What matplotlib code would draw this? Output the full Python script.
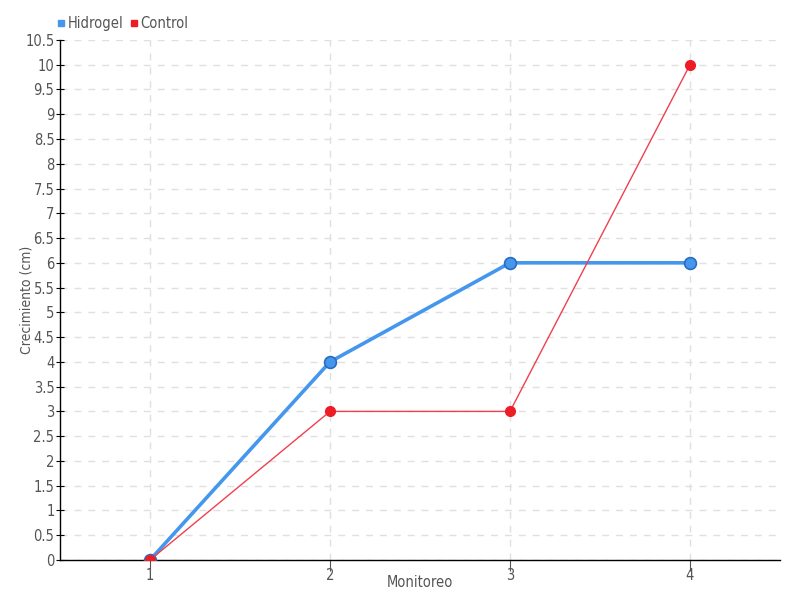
import numpy as np
import matplotlib
matplotlib.use("Agg")
import matplotlib.pyplot as plt
from matplotlib.lines import Line2D

monitoreo = [1, 2, 3, 4]
hidrogel = [0, 4, 6, 6]
control = [0, 3, 3, 10]
y_ticks = np.arange(0, 10.51, 0.5)

plt.rcParams['font.family'] = ['DejaVu Sans']
plt.rcParams['font.stretch'] = 'condensed'
txt = '#555555'

fig = plt.figure(figsize=(8, 6), dpi=100)
ax = fig.add_axes([0.075, 0.0667, 0.9, 0.8667])

ax.plot(monitoreo, hidrogel, color='#4597ee', lw=2.6, marker='o', ms=8.5,
        mfc='#4597ee', mec='#2a6cc0', mew=1.2, zorder=3)
ax.plot(monitoreo, control, color='#f0404f', lw=1, marker='o', ms=7,
        mfc='#ee1c25', mec='#ee1c25', zorder=4)

ax.set_xlim(0.5, 4.5)
ax.set_ylim(0, 10.5)
ax.set_xticks(monitoreo)
ax.set_xticklabels([str(m) for m in monitoreo])
ax.set_yticks(y_ticks)
ax.set_yticklabels(['{:g}'.format(v) for v in y_ticks])

ax.grid(True, color='#e0e0e0', ls=(0, (5, 5)), lw=1)
ax.set_axisbelow(True)
for s in ['top', 'right']:
    ax.spines[s].set_visible(False)
for s in ['left', 'bottom']:
    ax.spines[s].set_color('black')
    ax.spines[s].set_linewidth(1)

ax.tick_params(axis='y', direction='inout', length=6, colors='black',
               labelcolor=txt, labelsize=10.5, pad=1)
ax.tick_params(axis='x', direction='out', length=8, colors='#555555',
               labelcolor=txt, labelsize=10.5, pad=-2)

ax.set_xlabel('Monitoreo', color=txt, fontsize=10.5, labelpad=-6)
ax.set_ylabel('Crecimiento (cm)', color=txt, fontsize=10, labelpad=-6)

handles = [Line2D([], [], ls='', marker='s', ms=5, color='#4597ee'),
           Line2D([], [], ls='', marker='s', ms=5, color='#ee1c25')]
fig.legend(handles, ['Hidrogel', 'Control'], loc='upper left',
           bbox_to_anchor=(0.055, 0.995), ncol=2, frameon=False,
           fontsize=10.5, handlelength=0.5, handletextpad=0.2,
           columnspacing=0.5, labelcolor=txt)

fig.savefig('out.png', dpi=100)
